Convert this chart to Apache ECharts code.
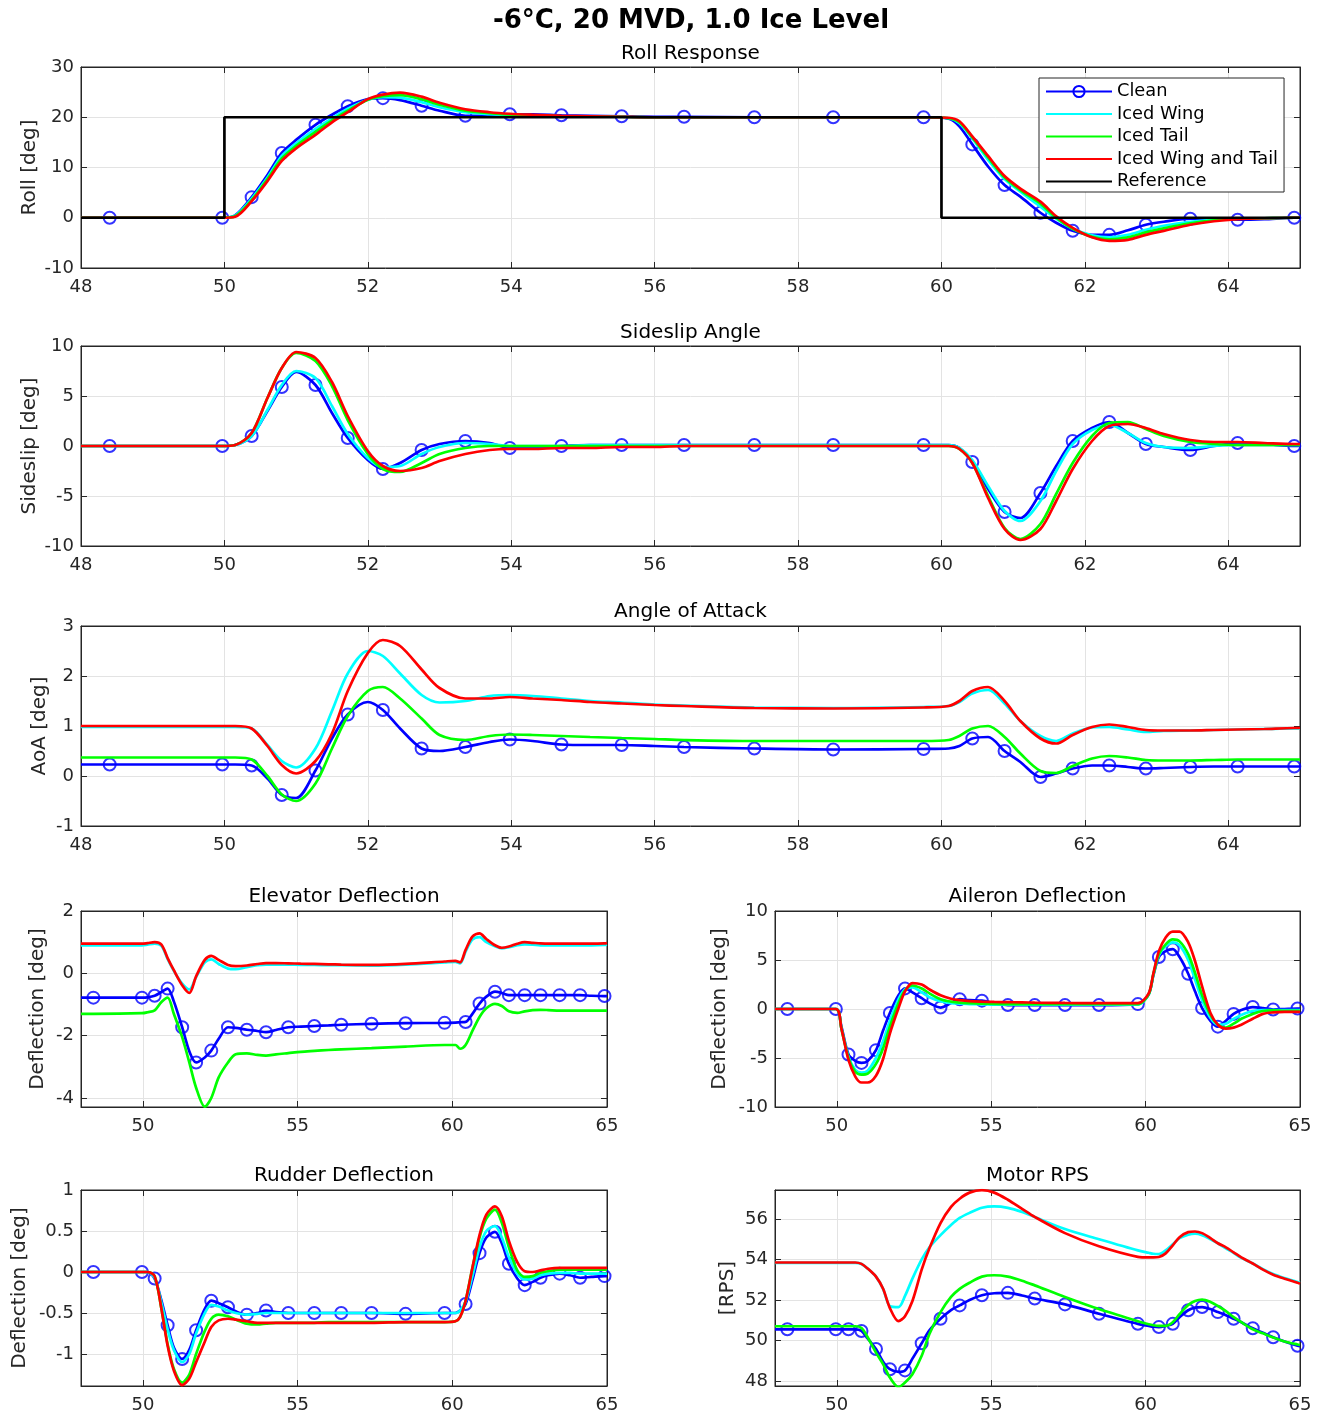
<!DOCTYPE html>
<html><head><meta charset="utf-8">
<script src="https://cdn.jsdelivr.net/npm/echarts@6/dist/echarts.min.js"></script>
<style>html,body{margin:0;padding:0;background:#fff}#c{width:1328px;height:1416px}</style>
</head><body><div id="c"></div>
<script>
// ---------------- data ----------------
const T = [48,48.4,49.97,50.15,50.38,50.6,50.8,51.0,51.27,51.5,51.72,52.0,
  52.21,52.45,52.75,53.0,53.36,53.7,53.98,54.3,54.7,55.1,55.54,56.0,
  56.41,57.39,58.49,59.75,60.1,60.25,60.43,60.65,60.88,61.1,61.38,61.6,
  61.83,62.1,62.34,62.6,62.85,63.1,63.47,63.8,64.13,64.5,64.92,65];
const markerT = [48.4,49.97,50.38,50.8,51.27,51.72,52.21,52.75,53.36,53.98,54.7,55.54,56.41,
  57.39,58.49,59.75,60.43,60.88,61.38,61.83,62.34,62.85,63.47,64.13,64.92];
const seriesNames = ['Clean','Iced Wing','Iced Tail','Iced Wing and Tail','Reference'];

const refT = [48,50,50,60,60,65];
const refRoll = [0,0,20,20,0,0];

const rollClean = [0,0,0,0.5,4.1,8.5,12.9,15.5,18.5,20.5,22.2,23.6,
  23.8,23.4,22.3,21.3,20.3,20.3,20.6,20.6,20.4,20.3,20.2,20.1,
  20.1,20.0,20.0,20.0,19.7,18.2,14.6,10.2,6.5,4.2,1.0,-1.0,
  -2.6,-3.4,-3.4,-2.5,-1.4,-0.8,-0.2,-0.2,-0.4,-0.3,0,0];
const rollWing = [0,0,0,0.4,3.8,8.0,12.3,14.8,17.7,19.8,21.7,23.5,
  24.0,23.9,23.0,22.0,21.0,20.6,20.4,20.3,20.2,20.1,20.1,20.0,
  20.0,20.0,20.0,20.0,19.8,18.8,15.8,11.5,7.7,5.2,2.2,-0.2,
  -2.2,-3.5,-3.9,-3.4,-2.4,-1.6,-0.8,-0.4,-0.2,-0.1,0,0];
const rollTail = [0,0,0,0.3,3.5,7.7,11.8,14.3,17.1,19.4,21.3,23.5,
  24.2,24.4,23.6,22.5,21.3,20.8,20.5,20.4,20.2,20.1,20.1,20.0,
  20.0,20.0,20.0,20.0,19.8,19.0,16.0,12.0,8.0,5.5,2.8,0.0,
  -2.2,-3.8,-4.3,-3.9,-2.9,-2.1,-1.1,-0.5,-0.2,-0.1,0,0];
const rollBoth = [0,0,0,0.2,3.3,7.3,11.3,13.8,16.5,19.0,21.0,23.6,
  24.5,24.9,24.1,22.9,21.6,21.0,20.7,20.5,20.3,20.2,20.1,20.0,
  20.0,20.0,20.0,20.0,19.9,19.2,16.2,12.3,8.3,5.8,3.2,0.3,
  -2.0,-3.9,-4.6,-4.4,-3.4,-2.6,-1.4,-0.7,-0.3,-0.1,0,0];

const betaClean = [0,0,0,0.1,1.0,3.5,5.9,7.4,6.1,3.3,0.8,-1.4,
  -2.3,-1.7,-0.4,0.2,0.5,0.3,-0.2,-0.2,0.0,0.1,0.1,0.1,
  0.1,0.1,0.1,0.1,0.1,-0.2,-1.6,-4.3,-6.6,-7.2,-4.7,-2.0,
  0.5,1.8,2.4,1.3,0.2,-0.1,-0.4,0.0,0.3,0.2,0.0,0.0];
const betaWing = [0,0,0,0.1,1.0,3.6,6.1,7.5,6.8,4.0,1.2,-1.2,
  -2.1,-2.0,-0.8,-0.1,0.3,0.2,0.0,0.0,0.0,0.1,0.1,0.1,
  0.1,0.1,0.1,0.1,0.1,-0.2,-1.4,-4.0,-6.5,-7.5,-5.5,-2.5,
  0.2,1.6,2.1,1.3,0.3,-0.1,-0.2,0.0,0.1,0.1,0.1,0.1];
const betaTail = [0,0,0,0.1,1.3,4.8,7.8,9.3,8.5,6.0,2.6,-0.8,
  -2.3,-2.6,-1.7,-0.8,-0.2,0.0,0.0,0.0,0.0,0.0,0.0,0.0,
  0.0,0.0,0.0,0.0,0.0,-0.3,-1.7,-5.0,-8.2,-9.3,-7.8,-4.8,
  -1.7,1.0,2.3,2.4,1.7,1.0,0.4,0.2,0.1,0.1,0.1,0.1];
const betaBoth = [0,0,0,0.1,1.3,4.8,7.8,9.4,8.8,6.4,3.0,-0.5,
  -2.0,-2.5,-2.2,-1.5,-0.8,-0.4,-0.3,-0.3,-0.2,-0.2,-0.1,-0.1,
  0.0,0.0,0.0,0.0,0.0,-0.3,-1.7,-5.2,-8.3,-9.4,-8.3,-5.5,
  -2.3,0.5,2.0,2.2,1.8,1.2,0.6,0.4,0.4,0.3,0.2,0.2];

const aoaClean = [0.23,0.23,0.23,0.23,0.21,-0.05,-0.38,-0.44,0.11,0.75,1.23,1.48,
  1.32,0.95,0.55,0.50,0.58,0.68,0.73,0.70,0.63,0.62,0.62,0.60,
  0.58,0.55,0.53,0.54,0.55,0.6,0.75,0.78,0.50,0.28,-0.02,0.05,
  0.15,0.21,0.21,0.18,0.15,0.16,0.18,0.19,0.19,0.19,0.19,0.19];
const aoaWing = [0.98,0.98,0.98,0.98,0.95,0.62,0.30,0.17,0.55,1.3,2.05,2.5,
  2.4,2.05,1.62,1.47,1.5,1.6,1.62,1.6,1.55,1.5,1.47,1.43,
  1.41,1.37,1.36,1.38,1.40,1.48,1.65,1.72,1.45,1.1,0.8,0.7,
  0.85,0.97,0.98,0.93,0.88,0.9,0.91,0.92,0.93,0.94,0.95,0.95];
const aoaTail = [0.37,0.37,0.37,0.37,0.33,0.0,-0.37,-0.5,-0.15,0.55,1.2,1.7,
  1.78,1.55,1.15,0.82,0.72,0.8,0.83,0.82,0.8,0.78,0.76,0.74,
  0.72,0.7,0.7,0.7,0.72,0.8,0.95,1.0,0.78,0.45,0.1,0.06,
  0.2,0.35,0.4,0.37,0.32,0.31,0.31,0.32,0.33,0.33,0.33,0.33];
const aoaBoth = [1.0,1.0,1.0,1.0,0.95,0.6,0.22,0.05,0.3,0.85,1.7,2.46,
  2.72,2.6,2.13,1.76,1.55,1.55,1.58,1.55,1.52,1.48,1.45,1.42,
  1.4,1.36,1.35,1.37,1.40,1.5,1.7,1.78,1.5,1.1,0.75,0.65,
  0.82,0.98,1.03,0.98,0.92,0.91,0.91,0.92,0.93,0.94,0.96,0.96];

const elevClean = [-0.78,-0.78,-0.78,-0.77,-0.72,-0.6,-0.49,-0.9,-1.73,-2.5,-2.86,-2.7,
  -2.48,-2.1,-1.73,-1.75,-1.81,-1.85,-1.89,-1.82,-1.73,-1.71,-1.69,-1.67,
  -1.65,-1.62,-1.6,-1.59,-1.58,-1.57,-1.56,-1.3,-0.97,-0.75,-0.59,-0.63,
  -0.7,-0.7,-0.7,-0.7,-0.7,-0.7,-0.7,-0.7,-0.7,-0.72,-0.73,-0.73];
const elevWing = [0.9,0.9,0.9,0.92,0.95,0.88,0.46,0.08,-0.33,-0.52,-0.12,0.35,
  0.45,0.3,0.15,0.13,0.2,0.26,0.28,0.28,0.28,0.27,0.27,0.26,
  0.26,0.25,0.28,0.35,0.37,0.32,0.7,1.08,1.16,1.0,0.87,0.8,
  0.84,0.9,0.93,0.92,0.9,0.9,0.9,0.9,0.9,0.9,0.91,0.92];
const elevTail = [-1.3,-1.3,-1.28,-1.25,-1.19,-0.92,-0.78,-1.3,-2.05,-2.86,-3.67,-4.28,
  -4.0,-3.34,-2.86,-2.6,-2.57,-2.62,-2.64,-2.6,-2.56,-2.52,-2.49,-2.46,
  -2.44,-2.4,-2.35,-2.3,-2.3,-2.42,-2.3,-1.85,-1.4,-1.12,-0.98,-1.05,
  -1.22,-1.27,-1.22,-1.18,-1.17,-1.18,-1.2,-1.2,-1.2,-1.2,-1.2,-1.2];
const elevBoth = [0.95,0.95,0.95,0.97,1.0,0.92,0.49,0.1,-0.38,-0.63,-0.1,0.43,
  0.56,0.43,0.27,0.23,0.25,0.3,0.33,0.33,0.32,0.31,0.3,0.29,
  0.28,0.27,0.3,0.38,0.4,0.35,0.75,1.18,1.28,1.1,0.9,0.82,
  0.86,0.95,1.0,0.98,0.96,0.95,0.95,0.95,0.95,0.95,0.96,0.97];

const ailClean = [0,0,0,-1.8,-4.65,-5.3,-5.5,-5.3,-4.2,-2.2,-0.4,1.4,
  2.1,1.7,1.1,0.6,0.15,0.6,1.0,0.9,0.85,0.6,0.4,0.4,
  0.4,0.4,0.4,0.5,1.5,3.4,5.3,5.9,6.1,5.3,3.6,1.8,
  0.1,-1.2,-1.8,-1.2,-0.5,-0.1,0.2,0.1,-0.05,0.0,0.05,0.05];
const ailWing = [0,0,0,-2.0,-4.9,-6.2,-6.5,-6.3,-5.0,-3.3,-1.2,1.0,
  2.0,2.2,1.7,1.2,0.8,0.6,0.55,0.5,0.48,0.45,0.45,0.45,
  0.45,0.45,0.45,0.45,1.5,3.5,5.5,6.4,6.8,6.5,5.0,3.0,
  0.9,-0.9,-1.6,-1.5,-1.0,-0.6,-0.2,-0.1,-0.1,-0.1,-0.1,-0.1];
const ailTail = [0,0,0,-2.0,-5.0,-6.4,-6.7,-6.6,-5.6,-4.0,-1.8,0.6,
  1.9,2.4,2.1,1.6,1.0,0.75,0.65,0.6,0.55,0.52,0.5,0.5,
  0.5,0.5,0.5,0.5,1.5,3.5,5.6,6.6,7.1,6.9,5.6,3.7,
  1.4,-0.6,-1.6,-1.9,-1.5,-1.0,-0.5,-0.2,-0.15,-0.2,-0.2,-0.2];
const ailBoth = [0,0,0,-2.0,-5.2,-6.9,-7.5,-7.5,-6.8,-5.1,-2.5,0.1,
  1.8,2.65,2.5,2.0,1.4,1.05,0.9,0.8,0.75,0.72,0.7,0.68,
  0.65,0.62,0.6,0.6,1.6,3.6,5.9,7.3,7.9,7.9,6.8,4.9,
  2.3,-0.4,-1.6,-2.0,-1.9,-1.6,-1.0,-0.5,-0.35,-0.3,-0.3,-0.3];

const rudClean = [0,0,0,0,-0.08,-0.35,-0.65,-0.92,-1.06,-0.95,-0.71,-0.45,
  -0.35,-0.38,-0.43,-0.48,-0.52,-0.5,-0.47,-0.49,-0.5,-0.5,-0.5,-0.5,
  -0.5,-0.5,-0.51,-0.5,-0.5,-0.47,-0.39,-0.1,0.23,0.42,0.49,0.35,
  0.1,-0.08,-0.16,-0.12,-0.07,-0.04,-0.02,-0.04,-0.07,-0.06,-0.05,-0.05];
const rudWing = [0,0,0,0,-0.07,-0.38,-0.7,-0.95,-1.1,-1.0,-0.75,-0.5,
  -0.4,-0.42,-0.47,-0.5,-0.52,-0.51,-0.5,-0.5,-0.5,-0.5,-0.5,-0.5,
  -0.5,-0.5,-0.5,-0.5,-0.5,-0.47,-0.36,-0.05,0.3,0.5,0.56,0.42,
  0.18,-0.02,-0.09,-0.08,-0.04,-0.02,-0.01,-0.01,-0.02,-0.02,-0.02,-0.02];
const rudTail = [0,0,0,0,-0.05,-0.45,-0.88,-1.18,-1.35,-1.25,-1.0,-0.72,
  -0.57,-0.52,-0.54,-0.58,-0.63,-0.64,-0.63,-0.62,-0.62,-0.62,-0.62,-0.61,
  -0.61,-0.61,-0.61,-0.61,-0.6,-0.55,-0.35,0.05,0.42,0.65,0.76,0.6,
  0.3,0.02,-0.06,-0.05,-0.01,0.01,0.03,0.03,0.03,0.03,0.03,0.03];
const rudBoth = [0,0,0,0,-0.05,-0.45,-0.9,-1.2,-1.38,-1.3,-1.1,-0.85,
  -0.67,-0.59,-0.57,-0.58,-0.6,-0.62,-0.62,-0.62,-0.62,-0.62,-0.62,-0.62,
  -0.62,-0.62,-0.61,-0.61,-0.6,-0.55,-0.35,0.05,0.45,0.7,0.8,0.68,
  0.38,0.12,0.01,0.0,0.02,0.04,0.05,0.05,0.05,0.05,0.05,0.05];

const rpsClean = [50.55,50.55,50.55,50.55,50.55,50.55,50.47,50.1,49.58,48.95,48.58,48.45,
  48.52,49.1,49.86,50.5,51.07,51.5,51.73,52.0,52.23,52.33,52.35,52.22,
  52.07,51.78,51.32,50.82,50.72,50.68,50.66,50.72,50.82,51.15,51.49,51.62,
  51.65,51.55,51.4,51.25,51.07,50.9,50.6,50.38,50.16,49.95,49.74,49.72];
const rpsWing = [53.83,53.83,53.83,53.83,53.83,53.83,53.78,53.55,53.15,52.55,51.7,51.65,
  52.2,53.05,54.0,54.6,55.2,55.7,56.05,56.3,56.55,56.62,56.55,56.35,
  56.1,55.5,55.0,54.45,54.33,54.28,54.27,54.45,54.75,55.05,55.22,55.27,
  55.2,55.0,54.8,54.55,54.32,54.08,53.8,53.52,53.28,53.08,52.88,52.85];
const rpsTail = [50.7,50.7,50.7,50.7,50.7,50.7,50.62,50.16,49.4,48.83,48.17,47.7,
  47.92,48.33,49.24,50.32,51.4,52.15,52.55,52.85,53.15,53.22,53.15,52.95,
  52.72,52.15,51.55,50.95,50.8,50.75,50.72,50.72,50.9,51.3,51.75,51.95,
  52.02,51.9,51.7,51.45,51.15,50.9,50.55,50.35,50.15,49.95,49.8,49.78];
const rpsBoth = [53.85,53.85,53.85,53.85,53.85,53.85,53.78,53.55,53.15,52.55,51.6,50.95,
  51.2,51.95,53.5,54.55,55.8,56.6,57.0,57.3,57.42,57.3,56.95,56.5,
  56.1,55.3,54.65,54.13,54.1,54.1,54.12,54.3,54.7,55.1,55.35,55.38,
  55.3,55.05,54.8,54.6,54.35,54.1,53.8,53.5,53.25,53.05,52.85,52.8];

const xTicksTop = [48,50,52,54,56,58,60,62,64];
const xTicksBottom = [50,55,60,65];

// ---------------- layout / style ----------------
const FONT = 'DejaVu Sans';
const TXT = '#262626';
const GRIDC = '#e3e3e3';
const COLORS = ['#0000ff','#00ffff','#00ff00','#ff0000'];
const LW = 2.7;

const panels = [
  {title:'Roll Response', ylabel:'Roll [deg]', gap:41, grid:{left:81,top:67,width:1219,height:201},
   ymin:-10, ymax:30, yticks:[-10,0,10,20,30], xticks:xTicksTop, d:[rollClean,rollWing,rollTail,rollBoth], ref:true, ty:54},
  {title:'Sideslip Angle', ylabel:'Sideslip [deg]', gap:41, grid:{left:81,top:346,width:1219,height:200},
   ymin:-10, ymax:10, yticks:[-10,-5,0,5,10], xticks:xTicksTop, d:[betaClean,betaWing,betaTail,betaBoth], ty:333},
  {title:'Angle of Attack', ylabel:'AoA [deg]', gap:31, grid:{left:81,top:626,width:1219,height:200},
   ymin:-1, ymax:3, yticks:[-1,0,1,2,3], xticks:xTicksTop, d:[aoaClean,aoaWing,aoaTail,aoaBoth], ty:612},
  {title:'Elevator Deflection', ylabel:'Deflection [deg]', gap:33, grid:{left:81,top:911,width:526,height:196},
   ymin:-4.29, ymax:2, yticks:[-4,-2,0,2], xticks:xTicksBottom, d:[elevClean,elevWing,elevTail,elevBoth], ty:897},
  {title:'Aileron Deflection', ylabel:'Deflection [deg]', gap:45, grid:{left:775,top:911,width:525,height:196},
   ymin:-10, ymax:10, yticks:[-10,-5,0,5,10], xticks:xTicksBottom, d:[ailClean,ailWing,ailTail,ailBoth], ty:897},
  {title:'Rudder Deflection', ylabel:'Deflection [deg]', gap:51, grid:{left:81,top:1190,width:526,height:196},
   ymin:-1.39, ymax:1, yticks:[-1,-0.5,0,0.5,1], xticks:xTicksBottom, d:[rudClean,rudWing,rudTail,rudBoth], ty:1176},
  {title:'Motor RPS', ylabel:'[RPS]', gap:37, grid:{left:775,top:1190,width:525,height:196},
   ymin:47.75, ymax:57.43, yticks:[48,50,52,54,56], xticks:xTicksBottom, d:[rpsClean,rpsWing,rpsTail,rpsBoth], ty:1176}
];

const N = panels.length;
const grids = [], xAxes = [], yAxes = [], series = [], graphics = [];
const axisLine = {show:true, onZero:false, lineStyle:{color:TXT, width:1}};
const labelStyle = {fontFamily:FONT, fontSize:18, color:TXT};
const HIDE = 'rgba(255,255,255,0)';

panels.forEach((p,k)=>{
  grids.push(Object.assign({show:true, borderColor:TXT, borderWidth:1, backgroundColor:'#fff', containLabel:false}, p.grid));
  xAxes[k] = {type:'value', gridIndex:k, min:48, max:65, position:'bottom', axisLine,
    axisTick:{show:true, inside:true, length:6, customValues:p.xticks, lineStyle:{color:TXT}},
    axisLabel:Object.assign({show:true, margin:10, customValues:p.xticks}, labelStyle),
    splitLine:{show:true, lineStyle:{color:GRIDC, width:1}}};
  xAxes[N+k] = {type:'value', gridIndex:k, min:48, max:65, position:'top', axisLine,
    axisTick:{show:true, inside:true, length:6, customValues:p.xticks, lineStyle:{color:TXT}},
    axisLabel:{show:false}, splitLine:{show:false}};
  yAxes[k] = {type:'value', gridIndex:k, min:p.ymin, max:p.ymax, position:'left', axisLine,
    axisTick:{show:true, inside:true, length:6, customValues:p.yticks, lineStyle:{color:TXT}},
    axisLabel:Object.assign({show:true, margin:7, customValues:p.yticks}, labelStyle),
    splitLine:{show:true, lineStyle:{color:GRIDC, width:1}},
    name:p.ylabel, nameLocation:'middle', nameGap:p.gap, nameRotate:90, nameMoveOverlap:false,
    nameTextStyle:{fontFamily:FONT, fontSize:20, color:TXT}};
  yAxes[N+k] = {type:'value', gridIndex:k, min:p.ymin, max:p.ymax, position:'right', axisLine,
    axisTick:{show:true, inside:true, length:6, customValues:p.yticks, lineStyle:{color:TXT}},
    axisLabel:{show:false}, splitLine:{show:false}};

  p.d.forEach((arr,j)=>{
    const pts = T.map((t,i)=>[t,arr[i]]);
    series.push({type:'line', name:seriesNames[j], xAxisIndex:k, yAxisIndex:k, data:pts,
      smooth:0.3, symbol:j===0?'circle':'none', showSymbol:false, symbolSize:11,
      lineStyle:{color:COLORS[j], width:LW},
      itemStyle: j===0 ? {color:HIDE, borderColor:COLORS[0], borderWidth:2} : {color:HIDE, borderColor:HIDE, borderWidth:0},
      silent:true, animation:false});
    if (j===0) {
      series.push({type:'scatter', xAxisIndex:k, yAxisIndex:k,
        data: pts.filter(pt=>markerT.includes(pt[0])),
        symbol:'circle', symbolSize:12,
        itemStyle:{color:HIDE, borderColor:COLORS[0], borderWidth:2},
        silent:true, animation:false});
    }
  });
  if (p.ref) {
    series.push({type:'line', name:seriesNames[4], xAxisIndex:k, yAxisIndex:k,
      data: refT.map((t,i)=>[t,refRoll[i]]), symbol:'none', lineStyle:{color:'#000', width:LW},
      itemStyle:{color:HIDE, borderColor:HIDE, borderWidth:0}, silent:true, animation:false});
  }
  graphics.push({type:'text', x:p.grid.left + p.grid.width/2, y:p.ty,
    style:{text:p.title, fontFamily:FONT, fontSize:20, fill:'#000', textAlign:'center', textVerticalAlign:'middle'}});
});

graphics.push({type:'text', x:691, y:21,
  style:{text:'-6°C, 20 MVD, 1.0 Ice Level', fontFamily:FONT, fontSize:26, fontWeight:'bold', fill:'#000', textAlign:'center', textVerticalAlign:'middle'}});

const chart = echarts.init(document.getElementById('c'), null, {renderer:'canvas'});
chart.setOption({
  animation:false,
  backgroundColor:'#fff',
  grid:grids, xAxis:xAxes, yAxis:yAxes, series,
  graphic:graphics,
  legend:{data:seriesNames.slice(), orient:'vertical', left:1039, top:78,
    itemWidth:66, itemHeight:14, itemGap:4.5, padding:[4.5,6,1.5,6],
    borderColor:TXT, borderWidth:1, backgroundColor:'#fff', selectedMode:false,
    textStyle:{fontFamily:FONT, fontSize:17.8, color:'#000', lineHeight:17}}
});
</script>
</body></html>
